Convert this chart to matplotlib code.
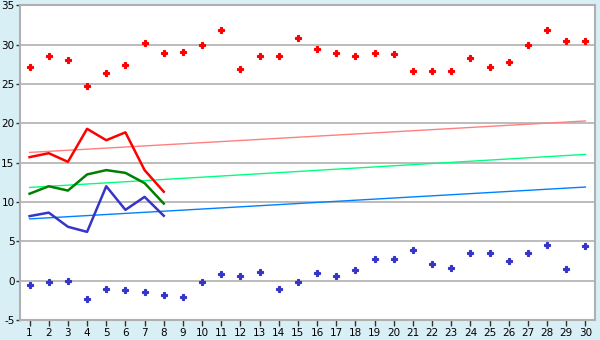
import matplotlib
matplotlib.use("Agg")
import matplotlib.pyplot as plt
import numpy as np

plt.rcParams["axes.unicode_minus"] = False

days = list(range(1, 31))
max_pts = [27.1, 28.5, 28.0, 24.8, 26.35, 27.4, 30.2, 28.9, 29.1, 29.95,
           31.8, 26.85, 28.5, 28.5, 30.8, 29.4, 28.9, 28.5, 28.9, 28.8,
           26.7, 26.7, 26.6, 28.25, 27.1, 27.75, 29.9, 31.8, 30.5, 30.5]
min_pts = [-0.6, -0.2, -0.1, -2.35, -1.0, -1.2, -1.5, -1.85, -2.1, -0.2,
           0.8, 0.55, 1.05, -1.1, -0.2, 0.95, 0.55, 1.3, 2.7, 2.7,
           3.85, 2.1, 1.6, 3.5, 3.5, 2.45, 3.5, 4.5, 1.45, 4.35]
line_days = [1, 2, 3, 4, 5, 6, 7, 8]
red_line = [15.7, 16.2, 15.1, 19.3, 17.85, 18.85, 14.05, 11.3]
green_line = [11.05, 12.0, 11.45, 13.5, 14.05, 13.7, 12.4, 9.8]
blue_line = [8.2, 8.65, 6.85, 6.2, 12.0, 9.0, 10.65, 8.25]
trend_days = [1, 30]
red_trend = [16.3, 20.3]
green_trend = [11.85, 16.05]
blue_trend = [7.85, 11.9]

bg = "#d9eff6"
fig = plt.figure(figsize=(6, 3.4), dpi=100, facecolor=bg)
ax = fig.add_axes([20/600, 1 - 320/340, 575/600, 314.7/340])
ax.set_facecolor("white")

ax.set_xlim(0.5, 30.5)
ax.set_ylim(-5, 35)
ax.set_yticks(range(-5, 36, 5))
ax.set_xticks(days)
ax.grid(axis="y", color="#b0b0b0", linewidth=1.2)
ax.set_axisbelow(True)
for s in ax.spines.values():
    s.set_color("#b0b0b0")
    s.set_linewidth(1.5)
ax.tick_params(axis="both", colors="#000000", labelsize=7.5, length=4, width=1,
               pad=1.5)
ax.tick_params(axis="y", length=3, pad=1)
ax.tick_params(axis="both", color="#333333")

ax.plot(trend_days, red_trend, color="#ff8080", lw=1)
ax.plot(trend_days, green_trend, color="#00ff80", lw=1)
ax.plot(trend_days, blue_trend, color="#0080ff", lw=1)

ax.plot(line_days, red_line, color="#ff0000", lw=1.8)
ax.plot(line_days, green_line, color="#007f00", lw=1.8)
ax.plot(line_days, blue_line, color="#3535c8", lw=1.8)

ax.plot(days, max_pts, ls="none", marker="P", ms=4.5, color="#ff0000",
        mec="#ff0000", mew=0.8)
ax.plot(days, min_pts, ls="none", marker="P", ms=4.5, color="#3535c8",
        mec="#3535c8", mew=0.8)

fig.savefig("out.png", dpi=100, facecolor=bg)
